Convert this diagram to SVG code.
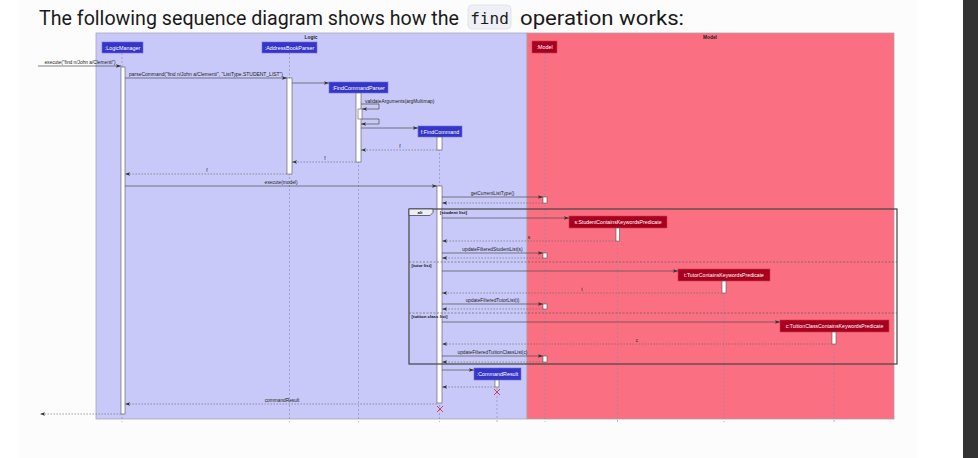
<svg xmlns="http://www.w3.org/2000/svg" width="978" height="458" viewBox="0 0 978 458">
<style>
.t{font-family:"Liberation Sans",Arial,sans-serif;font-size:4.8px;fill:#222}
.c{text-anchor:middle}
.b{font-weight:bold}
.g{font-family:"Liberation Sans",Arial,sans-serif;font-size:4.3px;font-weight:bold;fill:#111}
.pl{font-family:"Liberation Sans",Arial,sans-serif;font-size:5.4px;fill:#fff;text-anchor:middle}
.bl{fill:#3535C8;stroke:#6E6EDC;stroke-width:0.6}
.rd{fill:#A8001E;stroke:#C8404F;stroke-width:0.6}
.ll{stroke:#8A8AA8;stroke-width:0.6;stroke-dasharray:2,2;fill:none}
.act{fill:#fff;stroke:#555;stroke-width:0.6}
.m{stroke:#4a4a4a;stroke-width:0.7;fill:none;marker-end:url(#ah)}
.r{stroke:#6a6a6a;stroke-width:0.6;stroke-dasharray:1.6,1.4;fill:none;marker-end:url(#ah)}
.x{stroke:#D0304E;stroke-width:0.9}
.ti{font-family:Roboto,"Open Sans",sans-serif;font-size:20px;fill:#1a1a1a}
</style>
<defs>
<marker id="ah" viewBox="0 0 6 4" refX="6" refY="2" markerWidth="5" markerHeight="3.6" markerUnits="userSpaceOnUse" orient="auto"><path d="M0,0 L6,2 L0,4 L1.2,2 Z" fill="#333"/></marker>
</defs>
<rect x="0" y="0" width="978" height="458" fill="#ffffff"/>
<rect x="19" y="0" width="898" height="458" fill="#fcfcfc"/>
<rect x="963" y="0" width="15" height="458" fill="#333333"/>
<g id="title">
<text x="39" y="25" class="ti" textLength="420" lengthAdjust="spacingAndGlyphs">The following sequence diagram shows how the</text>
<rect x="468" y="5" width="43" height="24" rx="4" fill="#eff0f6" stroke="#e2e3ec" stroke-width="1"/>
<text x="489.5" y="24" font-family="'DejaVu Sans Mono','Liberation Mono',monospace" font-size="16" fill="#1a1a1a" text-anchor="middle">find</text>
<text x="520" y="25" class="ti" textLength="164" lengthAdjust="spacingAndGlyphs">operation works:</text>
</g>
<g id="frames">
<rect x="96" y="33" width="431" height="386" fill="#C9C9F9" stroke="#A8A8C0" stroke-width="0.8"/>
<text x="311" y="38.5" class="t c b">Logic</text>
<rect x="527" y="33" width="367" height="386" fill="#FA7082" stroke="#B0A0A8" stroke-width="0.8"/>
<text x="710" y="38.5" class="t c b">Model</text>
</g>
<g id="lifelines">
<line class="ll" x1="122" y1="53" x2="122" y2="422"/>
<line class="ll" x1="289.5" y1="53" x2="289.5" y2="422"/>
<line class="ll" x1="358.5" y1="93" x2="358.5" y2="422"/>
<line class="ll" x1="439.5" y1="137" x2="439.5" y2="422"/>
<line class="ll" x1="545" y1="53" x2="545" y2="422"/>
<line class="ll" x1="617.5" y1="228" x2="617.5" y2="422"/>
<line class="ll" x1="724" y1="281" x2="724" y2="422"/>
<line class="ll" x1="834" y1="332" x2="834" y2="422"/>
<line class="ll" x1="497" y1="380" x2="497" y2="422"/>
</g>
<g id="LogicManager">
<rect class="bl" x="102" y="42" width="41" height="11"/>
<text class="pl" x="122.5" y="49.5">:LogicManager</text>
<rect class="act" x="121" y="67" width="4" height="347"/>
</g>
<g id="AddressBookParser">
<rect class="bl" x="262" y="42" width="55" height="11"/>
<text class="pl" x="289.5" y="49.5">:AddressBookParser</text>
<rect class="act" x="287" y="78" width="5" height="96"/>
</g>
<g id="FindCommandParser">
<rect class="bl" x="329" y="82" width="59" height="11"/>
<text class="pl" x="358.5" y="89.5">:FindCommandParser</text>
<rect class="act" x="356" y="93" width="5" height="69"/>
<rect class="act" x="358" y="109" width="4" height="10"/>
</g>
<g id="FindCommand">
<rect class="bl" x="418" y="126" width="44" height="11"/>
<text class="pl" x="440" y="133.5">f:FindCommand</text>
<rect class="act" x="437" y="137" width="5" height="13"/>
<rect class="act" x="437" y="186" width="5" height="217"/>
<line class="x" x1="437" y1="406" x2="443" y2="412"/>
<line class="x" x1="443" y1="406" x2="437" y2="412"/>
</g>
<g id="Model">
<rect class="rd" x="532" y="41" width="25" height="12"/>
<text class="pl" x="544.5" y="49">:Model</text>
<rect class="act" x="543" y="197" width="4" height="6"/>
<rect class="act" x="543" y="253" width="4" height="5"/>
<rect class="act" x="543" y="304" width="4" height="5"/>
<rect class="act" x="543" y="356" width="4" height="6"/>
</g>
<g id="StudentPredicate">
<rect class="rd" x="569" y="216" width="98" height="12"/>
<text class="pl" x="618" y="224" style="font-size:5.2px">s:StudentContainsKeywordsPredicate</text>
<rect class="act" x="616" y="228" width="3.5" height="13"/>
</g>
<g id="TutorPredicate">
<rect class="rd" x="678" y="269" width="92" height="12"/>
<text class="pl" x="724" y="277" style="font-size:5.2px">t:TutorContainsKeywordsPredicate</text>
<rect class="act" x="722" y="281" width="4" height="12"/>
</g>
<g id="TuitionClassPredicate">
<rect class="rd" x="780" y="320" width="109" height="12"/>
<text class="pl" x="834.5" y="328" style="font-size:5.2px">c:TuitionClassContainsKeywordsPredicate</text>
<rect class="act" x="832" y="332" width="4" height="12"/>
</g>
<g id="CommandResult">
<rect class="bl" x="474" y="368" width="47" height="12"/>
<text class="pl" x="497.5" y="376">:CommandResult</text>
<rect class="act" x="495" y="380" width="4" height="7"/>
<line class="x" x1="494" y1="389" x2="500" y2="395"/>
<line class="x" x1="500" y1="389" x2="494" y2="395"/>
</g>
<g id="alt">
<rect x="409" y="209" width="488" height="155" fill="none" stroke="#444" stroke-width="1.2"/>
<path d="M409,209 H433 V212.5 L430,215.5 H409 Z" fill="#eeeef8" stroke="#444" stroke-width="0.8"/>
<text x="420" y="214" class="g" text-anchor="middle">alt</text>
<text x="440" y="214" class="g" textLength="27" lengthAdjust="spacingAndGlyphs">[student list]</text>
<line x1="409" y1="262" x2="897" y2="262" stroke="#555" stroke-width="0.6" stroke-dasharray="2,1.5"/>
<text x="411.5" y="267" class="g" textLength="20" lengthAdjust="spacingAndGlyphs">[tutor list]</text>
<line x1="409" y1="313" x2="897" y2="313" stroke="#555" stroke-width="0.6" stroke-dasharray="2,1.5"/>
<text x="411.5" y="318" class="g" textLength="36" lengthAdjust="spacingAndGlyphs">[tuition class list]</text>
</g>
<g id="connectors">
<path class="m" d="M38,66 H121"/>
<text class="t c" x="80" y="64">execute("find n/John a/Clementi")</text>
<path class="m" d="M125,78 H287"/>
<text class="t c" x="206" y="76" textLength="154" lengthAdjust="spacingAndGlyphs">parseCommand("find n/John a/Clementi", "ListType.STUDENT_LIST")</text>
<path class="m" d="M292,83 H329"/>
<path class="m" d="M361,104 H379 V109 H362"/>
<text class="t" x="365" y="102.5">validateArguments(argMultimap)</text>
<path class="m" d="M362,119 H379 V124 H361"/>
<path class="m" d="M361,128 H418"/>
<path class="r" d="M437,150 H361"/>
<text class="t c" x="400" y="148">f</text>
<path class="r" d="M356,162 H292"/>
<text class="t c" x="325" y="160">f</text>
<path class="r" d="M287,174 H125"/>
<text class="t c" x="207" y="172">f</text>
<path class="m" d="M125,186 H437"/>
<text class="t c" x="281" y="184">execute(model)</text>
<path class="m" d="M442,197 H543"/>
<text class="t c" x="492.5" y="195">getCurrentListType()</text>
<path class="r" d="M543,203 H442"/>
<path class="m" d="M442,218 H569"/>
<path class="r" d="M616,241 H442"/>
<text class="t c" x="529" y="239">s</text>
<path class="m" d="M442,253 H543"/>
<text class="t c" x="492.5" y="251">updateFilteredStudentList(s)</text>
<path class="r" d="M543,258 H442"/>
<path class="m" d="M442,271 H678"/>
<path class="r" d="M722,293 H442"/>
<text class="t c" x="582" y="291">t</text>
<path class="m" d="M442,304 H543"/>
<text class="t c" x="492.5" y="302">updateFilteredTutorList(t)</text>
<path class="r" d="M543,309 H442"/>
<path class="m" d="M442,322 H780"/>
<path class="r" d="M832,344 H442"/>
<text class="t c" x="637" y="342">c</text>
<path class="m" d="M442,356 H543"/>
<text class="t c" x="492.5" y="354">updateFilteredTuitionClassList(c)</text>
<path class="r" d="M543,362 H442"/>
<path class="m" d="M442,370 H474"/>
<path class="r" d="M495,387 H442"/>
<path class="r" d="M437,404 H125"/>
<text class="t c" x="282" y="402">commandResult</text>
<path class="r" d="M121,414 H40"/>
</g>
</svg>
